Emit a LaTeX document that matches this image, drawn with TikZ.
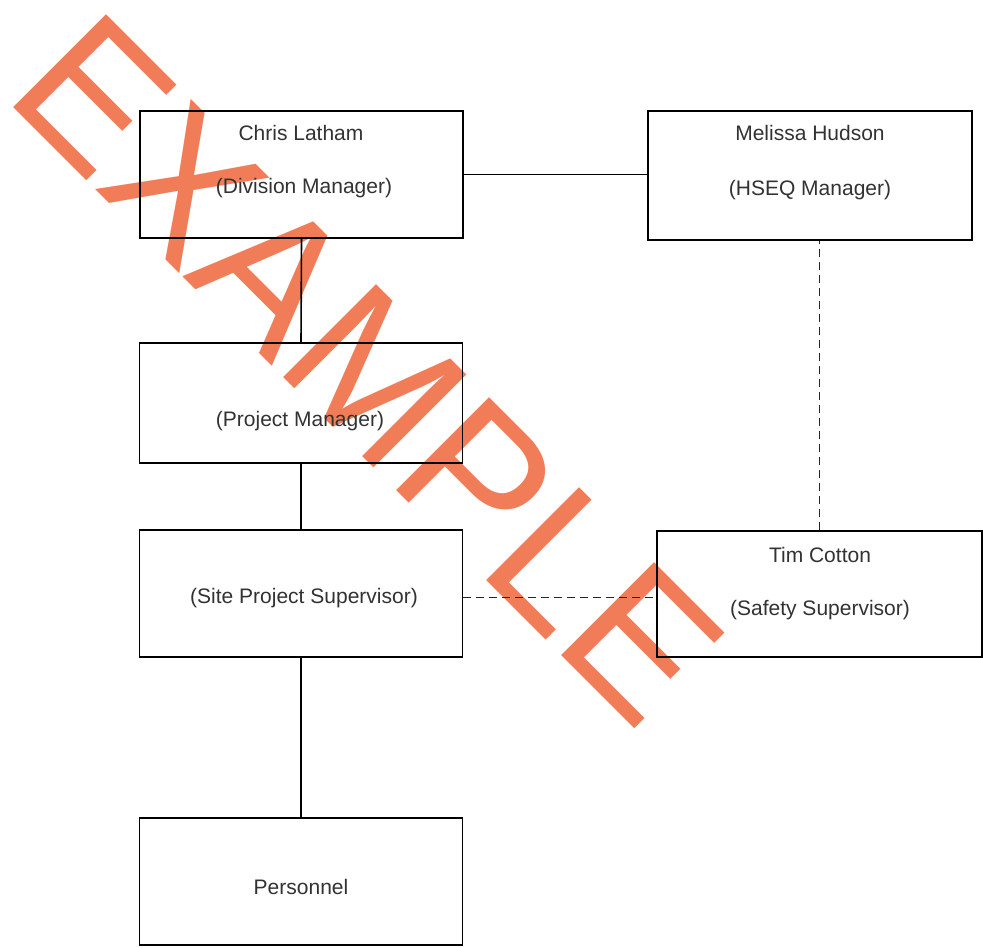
\documentclass[tikz,border=0pt]{standalone}
\usepackage{fontspec}
\setmainfont{Liberation Sans}
\usetikzlibrary{calc}
\definecolor{wmorange}{RGB}{241,125,88}
\definecolor{txtgray}{RGB}{50,50,50}
\tikzset{
  orgbox/.style={draw=black, line width=0.8pt, rectangle, inner sep=0pt,
    minimum width=161.5pt, minimum height=63.5pt},
  lbl/.style={text=txtgray, font=\fontsize{10.5pt}{12pt}\selectfont, inner sep=0pt, anchor=center},
  solidlink/.style={draw=black, line width=0.8pt},
  dashlink/.style={draw=black!85, line width=0.8pt, dash pattern=on 4pt off 2.5pt},
  watermark/.style={text=wmorange, inner sep=0pt, anchor=base west, rotate=-45,
    font=\fontsize{95.5pt}{95.5pt}\selectfont}
}
\begin{document}
\begin{tikzpicture}[x=0.5pt,y=-0.5pt]
\useasboundingbox (0,0) rectangle (983,947);
\fill[white] (0,0) rectangle (983,947);
% watermark
\node[watermark] (wm) at (2.4,96.4) {EXAMPLE};
% boxes
\node[orgbox] (chris) at (301.5,174.5) {};
\node[orgbox, minimum width=162pt, minimum height=64.5pt] (melissa) at (810,175.5) {};
\node[orgbox, minimum height=60pt] (pm) at (301,403) {};
\node[orgbox, minimum height=63.5pt] (sps) at (301,593.5) {};
\node[orgbox, minimum width=162.5pt, minimum height=63pt] (tim) at (819.5,594) {};
\node[orgbox, minimum height=63.5pt] (pers) at (301,881.5) {};
% texts
\node[lbl] (t1) at (301,133) {Chris Latham};
\node[lbl] (t2) at (304,188) {(Division Manager)};
\node[lbl] (t3) at (810,133) {Melissa Hudson};
\node[lbl] (t4) at (810,190) {(HSEQ Manager)};
\node[lbl] (t5) at (300,421) {(Project Manager)};
\node[lbl] (t6) at (304,598) {(Site Project Supervisor)};
\node[lbl] (t7) at (820,555) {Tim Cotton};
\node[lbl] (t8) at (820,610) {(Safety Supervisor)};
\node[lbl] (t9) at (301,887) {Personnel};
% connectors
\draw[solidlink] (chris.east) -- (melissa.west |- chris.east);
\draw[solidlink] (chris.south) -- (pm.north);
\draw[solidlink] (pm.south) -- (sps.north);
\draw[solidlink] (sps.south) -- (pers.north);
\draw[dashlink] (tim.north) -- (tim.north |- melissa.south);
\draw[dashlink] ($(sps.east)+(0,4)$) -- ($(tim.west |- sps.east)+(0,4)$);
\end{tikzpicture}
\end{document}
